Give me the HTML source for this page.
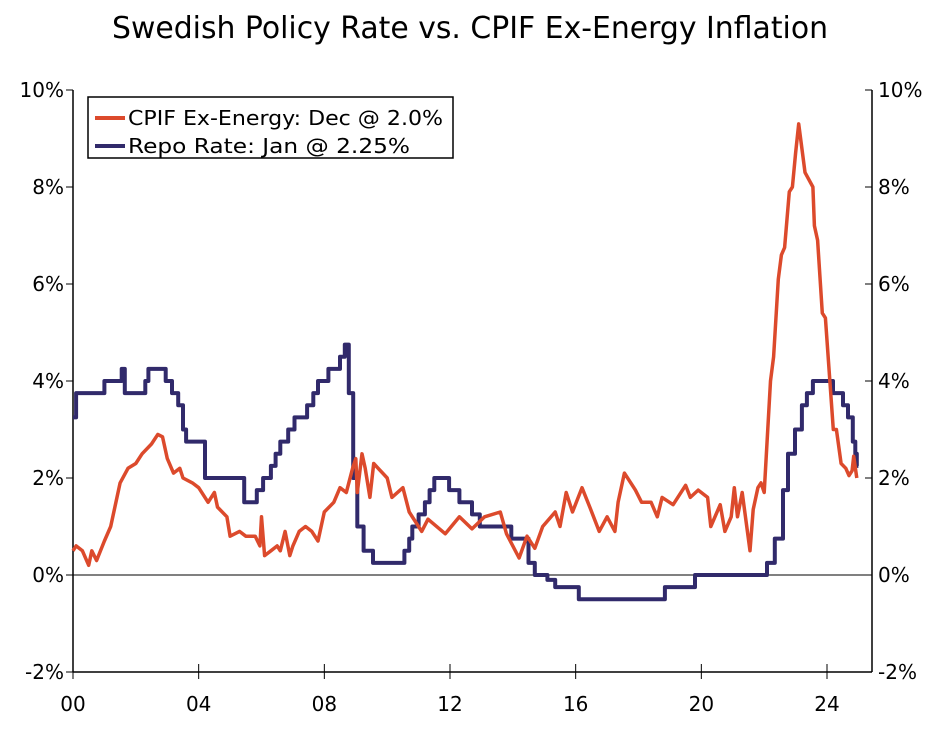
<!DOCTYPE html>
<html><head><meta charset="utf-8"><style>
body{margin:0;background:#fff;}
svg text{font-family:"DejaVu Sans","Liberation Sans",sans-serif;}
</style></head><body>
<svg id="chart" width="947" height="727" xmlns="http://www.w3.org/2000/svg">
<text x="470" y="38" text-anchor="middle" font-size="30" textLength="716" lengthAdjust="spacingAndGlyphs">Swedish Policy Rate vs. CPIF Ex-Energy Inflation</text>
<g id="axes"></g>
<g id="series"></g>
<g>
<rect x="88" y="97" width="365" height="61" fill="#fff" stroke="#000" stroke-width="1.5"/>
<line x1="95" y1="118" x2="125" y2="118" stroke="#dc4a2c" stroke-width="4"/>
<text x="128" y="125" font-size="20" textLength="315" lengthAdjust="spacingAndGlyphs">CPIF Ex-Energy: Dec @ 2.0%</text>
<line x1="95" y1="146" x2="125" y2="146" stroke="#312a6b" stroke-width="4"/>
<text x="128" y="153" font-size="20" textLength="282" lengthAdjust="spacingAndGlyphs">Repo Rate: Jan @ 2.25%</text>
</g>
</svg>
<script>
const yTicks=[-2,0,2,4,6,8,10];
const xTickYears=[2000,2004,2008,2012,2016,2020,2024];
const xTickLabels=["00","04","08","12","16","20","24"];
const repoDates=[2000.0,2000.1,2001.0,2001.55,2001.65,2002.3,2002.4,2002.95,2003.15,2003.35,2003.5,2003.6,2004.2,2005.45,2005.85,2006.05,2006.3,2006.45,2006.6,2006.85,2007.05,2007.45,2007.65,2007.8,2008.13,2008.5,2008.65,2008.78,2008.92,2009.05,2009.25,2009.55,2010.55,2010.7,2010.8,2011.0,2011.2,2011.35,2011.5,2011.97,2012.3,2012.7,2012.95,2013.95,2014.5,2014.7,2015.1,2015.35,2016.1,2018.84,2019.8,2022.09,2022.34,2022.6,2022.76,2022.98,2023.2,2023.36,2023.55,2024.19,2024.51,2024.67,2024.82,2024.9,2024.95];
const repoValues=[3.25,3.75,4.0,4.25,3.75,4.0,4.25,4.0,3.75,3.5,3.0,2.75,2.0,1.5,1.75,2.0,2.25,2.5,2.75,3.0,3.25,3.5,3.75,4.0,4.25,4.5,4.75,3.75,2.0,1.0,0.5,0.25,0.5,0.75,1.0,1.25,1.5,1.75,2.0,1.75,1.5,1.25,1.0,0.75,0.25,0.0,-0.1,-0.25,-0.5,-0.25,0.0,0.25,0.75,1.75,2.5,3.0,3.5,3.75,4.0,3.75,3.5,3.25,2.75,2.5,2.25];
const repoEnd=2025.0;
const cpifDates=[2000.0,2000.1,2000.3,2000.5,2000.6,2000.75,2001.0,2001.2,2001.5,2001.75,2002.0,2002.2,2002.5,2002.7,2002.85,2003.0,2003.2,2003.4,2003.5,2003.8,2004.0,2004.3,2004.5,2004.6,2004.9,2005.0,2005.3,2005.5,2005.8,2005.95,2006.0,2006.1,2006.3,2006.5,2006.6,2006.75,2006.9,2007.0,2007.2,2007.4,2007.6,2007.8,2008.0,2008.3,2008.5,2008.7,2008.9,2009.0,2009.05,2009.2,2009.3,2009.45,2009.57,2010.0,2010.15,2010.5,2010.7,2011.1,2011.3,2011.85,2012.3,2012.7,2013.1,2013.6,2013.8,2014.2,2014.45,2014.7,2014.95,2015.35,2015.5,2015.7,2015.9,2016.2,2016.45,2016.75,2017.0,2017.25,2017.35,2017.55,2017.9,2018.1,2018.4,2018.6,2018.75,2019.1,2019.5,2019.65,2019.9,2020.2,2020.3,2020.6,2020.75,2020.95,2021.05,2021.15,2021.3,2021.55,2021.65,2021.8,2021.9,2022.0,2022.2,2022.3,2022.45,2022.55,2022.65,2022.8,2022.9,2023.0,2023.1,2023.3,2023.55,2023.6,2023.7,2023.85,2023.95,2024.2,2024.3,2024.45,2024.6,2024.7,2024.8,2024.85,2024.95];
const cpifValues=[0.5,0.6,0.5,0.2,0.5,0.3,0.7,1.0,1.9,2.2,2.3,2.5,2.7,2.9,2.85,2.4,2.1,2.2,2.0,1.9,1.8,1.5,1.7,1.4,1.2,0.8,0.9,0.8,0.8,0.6,1.2,0.4,0.5,0.6,0.5,0.9,0.4,0.6,0.9,1.0,0.9,0.7,1.3,1.5,1.8,1.7,2.2,2.4,1.7,2.5,2.2,1.6,2.3,2.0,1.6,1.8,1.3,0.9,1.15,0.85,1.2,0.95,1.2,1.3,0.85,0.35,0.8,0.55,1.0,1.3,1.0,1.7,1.3,1.8,1.4,0.9,1.2,0.9,1.5,2.1,1.75,1.5,1.5,1.2,1.6,1.45,1.85,1.6,1.75,1.6,1.0,1.45,0.9,1.2,1.8,1.2,1.7,0.5,1.35,1.8,1.9,1.7,4.0,4.5,6.1,6.6,6.75,7.9,8.0,8.7,9.3,8.3,8.0,7.2,6.9,5.4,5.3,3.0,3.0,2.3,2.2,2.05,2.15,2.45,2.0];
const X0=73,X1=872,Y10=90,Y_2=672;
const xs=y=>X0+(y-2000)*((827-73)/24);
const ys=v=>Y_2-(v+2)*((Y_2-Y10)/12);
const NS="http://www.w3.org/2000/svg";
const axes=document.getElementById('axes'),series=document.getElementById('series');
function mk(tag,attrs,parent){const e=document.createElementNS(NS,tag);for(const k in attrs)e.setAttribute(k,attrs[k]);parent.appendChild(e);return e;}
let e;
e=mk('line',{x1:X0,y1:Y10,x2:X0,y2:Y_2,stroke:'#000','stroke-width':1.5},axes);


e=mk('line',{x1:X1,y1:Y10,x2:X1,y2:Y_2,stroke:'#000','stroke-width':1.5},axes);


e=mk('line',{x1:X0,y1:Y_2,x2:X1,y2:Y_2,stroke:'#000','stroke-width':1.5},axes);


e=mk('line',{x1:X0,y1:ys(0),x2:X1,y2:ys(0),stroke:'#000','stroke-width':1},axes);


yTicks.forEach(v=>{
 const y=ys(v);
 mk('line',{x1:X0-7,y1:y,x2:X0,y2:y,stroke:'#000','stroke-width':1},axes);
 mk('line',{x1:X1-7,y1:y,x2:X1,y2:y,stroke:'#000','stroke-width':1},axes);
 let t=mk('text',{x:X0-9,y:y+7,'text-anchor':'end','font-size':20},axes);t.textContent=v+'%';
 
 
 t=mk('text',{x:X1+6,y:y+7,'text-anchor':'start','font-size':20},axes);t.textContent=v+'%';
 
 
});
xTickYears.forEach((yr,i)=>{
 const x=xs(yr);
 mk('line',{x1:x,y1:Y_2-8,x2:x,y2:Y_2+7,stroke:'#000','stroke-width':1},axes);
 const t=mk('text',{x:x,y:711,'text-anchor':'middle','font-size':20},axes);t.textContent=xTickLabels[i];
 
 
});
let d='';
repoDates.forEach((yr,i)=>{
 const x=xs(yr).toFixed(1),y=ys(repoValues[i]).toFixed(1);
 if(i===0)d+='M'+x+' '+y;else d+='L'+x+' '+ys(repoValues[i-1]).toFixed(1)+'L'+x+' '+y;
});
d+='L'+xs(repoEnd).toFixed(1)+' '+ys(repoValues[repoValues.length-1]).toFixed(1);
e=mk('path',{d:d,fill:'none',stroke:'#312a6b','stroke-width':4,'stroke-linejoin':'round'},series);


d='';
cpifDates.forEach((yr,i)=>{d+=(i?'L':'M')+xs(yr).toFixed(1)+' '+ys(cpifValues[i]).toFixed(1);});
e=mk('path',{d:d,fill:'none',stroke:'#dc4a2c','stroke-width':3.5,'stroke-linejoin':'round'},series);


</script>
</body></html>
